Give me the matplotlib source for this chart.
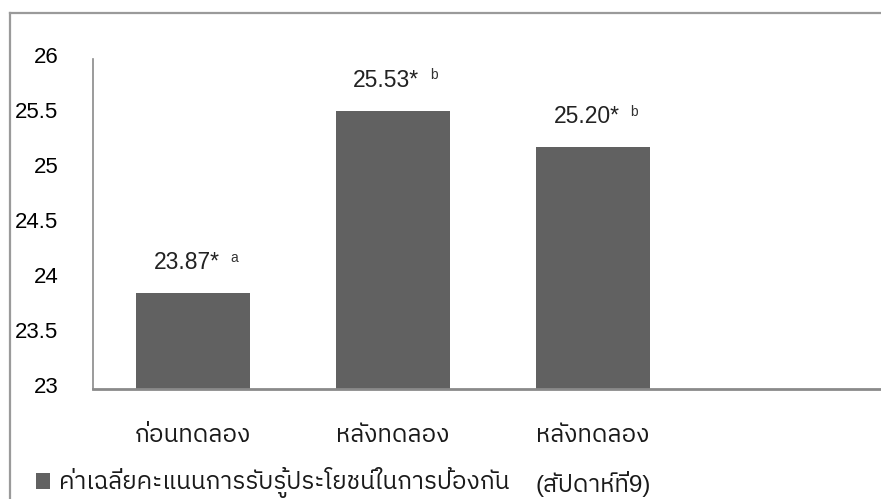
import matplotlib
matplotlib.use('Agg')
import matplotlib.pyplot as plt
from matplotlib.lines import Line2D
from matplotlib.transforms import ScaledTranslation

FONT = ['Liberation Sans', 'IBM Plex Sans Thai']
plt.rcParams['font.family'] = FONT

categories = ['ก่อนทดลอง', 'หลังทดลอง', 'หลังทดลอง\n(สัปดาห์ที่9)']
scores = [23.87, 25.53, 25.20]
score_labels = ['23.87*', '25.53*', '25.20*']
groups = ['a', 'b', 'b']
series_name = 'ค่าเฉลี่ยคะแนนการรับรู้ประโยชน์ในการป้องกัน'
yticks = [23, 23.5, 24, 24.5, 25, 25.5, 26]
ytick_labels = ['23', '23.5', '24', '24.5', '25', '25.5', '26']

BAR = '#616161'
FRAME = '#9a9a9a'

W, H = 881, 499
fig = plt.figure(figsize=(W / 100, H / 100), dpi=100)

# outer chart frame (top + left edge visible)
fig.add_artist(Line2D([10 / W, 1], [1 - 13 / H, 1 - 13 / H], transform=fig.transFigure,
                      color=FRAME, lw=1.6))
fig.add_artist(Line2D([10 / W, 10 / W], [0, 1 - 13 / H], transform=fig.transFigure,
                      color=FRAME, lw=1.6))

ax = fig.add_axes([93 / W, 1 - 389 / H, 1 - 93 / W, (389 - 59) / H])
x = list(range(len(categories)))
bars = ax.bar(x, [s - 23 for s in scores], bottom=23, width=0.57, color=BAR,
              label=series_name)

ax.set_ylim(23, 26)
ax.set_xlim(-0.5, 3.44)
ax.set_yticks(yticks)
ax.set_yticklabels(ytick_labels, fontsize=16)
ax.set_xticks(x)
ax.set_xticklabels(categories, fontsize=17.5, linespacing=2.15, va='top', color='#1a1a1a')
ax.tick_params(axis='y', length=0, pad=25)
ax.tick_params(axis='x', length=0, pad=26)

# excel puts the value labels a bit higher than the tick
off = ScaledTranslation(0, 3 / 72, fig.dpi_scale_trans)
for lbl in ax.get_yticklabels():
    lbl.set_transform(lbl.get_transform() + off)

for side in ['top', 'right']:
    ax.spines[side].set_visible(False)
ax.spines['left'].set_color('#8a8a8a')
ax.spines['left'].set_linewidth(1.2)
ax.spines['bottom'].set_color('#8a8a8a')
ax.spines['bottom'].set_linewidth(2.0)

for xi, s, txt, g in zip(x, scores, score_labels, groups):
    ax.annotate(txt, (xi, s), xytext=(19, 22), textcoords='offset points',
                ha='right', va='center', fontsize=16.5, color='#222222')
    ax.annotate(g, (xi, s), xytext=(29.5, 25.5), textcoords='offset points',
                ha='center', va='center', fontsize=10, color='#333333')

fig.legend(handles=[bars], labels=[series_name], loc='center left',
           bbox_to_anchor=(26 / W, 1 - 483 / H), frameon=False,
           prop={'size': 17.5}, labelcolor='#1a1a1a',
           handlelength=0.6, handleheight=0.6, handletextpad=0.35,
           borderaxespad=0.0)

fig.savefig('out.png', dpi=100)
